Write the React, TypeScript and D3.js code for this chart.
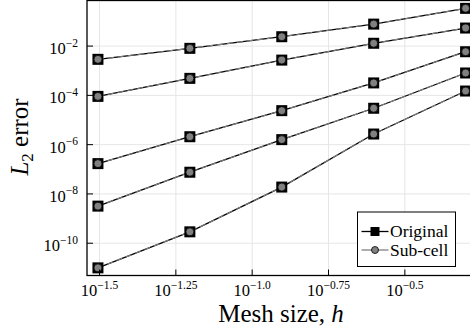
import { useEffect, useRef } from 'react'
import * as d3 from 'd3'

// mesh sizes h = 1/32 ... 1/2
const meshSizes = [1 / 32, 1 / 16, 1 / 8, 1 / 4, 1 / 2]

// L2 errors, one row per case
const originalErrors = [
  [2.9e-3, 8.1e-3, 2.4e-2, 7.8e-2, 3.4e-1],
  [9.1e-5, 4.9e-4, 2.7e-3, 1.3e-2, 5.4e-2],
  [1.7e-7, 2.1e-6, 2.4e-5, 3.2e-4, 5.9e-3],
  [3.2e-9, 7.6e-8, 1.6e-6, 3.0e-5, 8.1e-4],
  [1.0e-11, 2.9e-10, 1.9e-8, 2.7e-6, 1.5e-4],
]
const subCellErrors = [
  [2.9e-3, 8.1e-3, 2.4e-2, 7.8e-2, 3.4e-1],
  [9.1e-5, 4.9e-4, 2.7e-3, 1.3e-2, 5.4e-2],
  [1.7e-7, 2.1e-6, 2.4e-5, 3.2e-4, 5.9e-3],
  [3.2e-9, 7.6e-8, 1.6e-6, 3.0e-5, 8.1e-4],
  [1.0e-11, 2.9e-10, 1.9e-8, 2.7e-6, 1.5e-4],
]

const xTickExps = ['-1.5', '-1.25', '-1.0', '-0.75', '-0.5']
const yTickExps = ['-2', '-4', '-6', '-8', '-10']
const legendLabels = ['Original', 'Sub-cell']

const FONT = '"Liberation Serif", "DejaVu Serif", serif'

export default function App() {
  const ref = useRef<SVGSVGElement>(null)

  useEffect(() => {
    document.body.style.margin = '0'
    if (!ref.current) return
    const svg = d3.select(ref.current)
    svg.selectAll('*').remove()

    const left = 87
    const right = 476.6
    const top = 0.5
    const bottom = 275.5

    const x = d3.scaleLog()
      .domain([Math.pow(10, -1.541), Math.pow(10, -0.265)])
      .range([left, right])
    const y = d3.scaleLog()
      .domain([Math.pow(10, -11.31), Math.pow(10, -0.15)])
      .range([bottom, top])

    const g = svg.append('g')

    // grid
    xTickExps.forEach(e => {
      const px = x(Math.pow(10, +e))
      g.append('line')
        .attr('x1', px).attr('x2', px).attr('y1', top).attr('y2', bottom)
        .attr('stroke', '#e6e6e6').attr('stroke-width', 1)
    })
    yTickExps.forEach(e => {
      const py = y(Math.pow(10, +e))
      g.append('line')
        .attr('x1', left).attr('x2', right).attr('y1', py).attr('y2', py)
        .attr('stroke', '#e6e6e6').attr('stroke-width', 1)
    })

    // series
    const line = d3.line<number>()
      .x((_, i) => x(meshSizes[i]))
      .y(d => y(d))

    originalErrors.forEach(row => {
      g.append('path').datum(row)
        .attr('fill', 'none').attr('stroke', '#000').attr('stroke-width', 1.3)
        .attr('d', line)
    })
    subCellErrors.forEach(row => {
      g.append('path').datum(row)
        .attr('fill', 'none').attr('stroke', '#808080').attr('stroke-width', 1.1)
        .attr('stroke-dasharray', '6,4')
        .attr('d', line)
    })
    originalErrors.forEach(row => {
      row.forEach((v, i) => {
        g.append('rect')
          .attr('x', x(meshSizes[i]) - 5.5).attr('y', y(v) - 5.5)
          .attr('width', 11).attr('height', 11)
          .attr('fill', '#000')
      })
    })
    subCellErrors.forEach(row => {
      row.forEach((v, i) => {
        g.append('circle')
          .attr('cx', x(meshSizes[i])).attr('cy', y(v)).attr('r', 4)
          .attr('fill', '#808080').attr('stroke', '#000').attr('stroke-width', 0.8)
      })
    })

    // frame
    g.append('rect')
      .attr('x', left).attr('y', top)
      .attr('width', right - left).attr('height', bottom - top)
      .attr('fill', 'none').attr('stroke', '#000').attr('stroke-width', 1.3)

    // ticks + labels
    xTickExps.forEach(e => {
      const px = x(Math.pow(10, +e))
      g.append('line')
        .attr('x1', px).attr('x2', px).attr('y1', bottom).attr('y2', bottom - 6)
        .attr('stroke', '#000').attr('stroke-width', 1)
      const t = g.append('text')
        .attr('x', px).attr('y', 296)
        .attr('text-anchor', 'middle')
        .attr('font-family', FONT).attr('font-size', 16.5)
      t.append('tspan').text('10')
      t.append('tspan').attr('dy', -7.5).attr('font-size', 11.5).text(e.replace('-', '\u2212'))
    })
    yTickExps.forEach(e => {
      const py = y(Math.pow(10, +e))
      g.append('line')
        .attr('x1', left).attr('x2', left + 6).attr('y1', py).attr('y2', py)
        .attr('stroke', '#000').attr('stroke-width', 1)
      const t = g.append('text')
        .attr('x', 78).attr('y', py + 8)
        .attr('text-anchor', 'end')
        .attr('font-family', FONT).attr('font-size', 16.5)
      t.append('tspan').text('10')
      t.append('tspan').attr('dy', -7.5).attr('font-size', 11.5).text(e.replace('-', '\u2212'))
    })

    // axis labels
    const xl = g.append('text')
      .attr('x', 281).attr('y', 322)
      .attr('text-anchor', 'middle')
      .attr('font-family', FONT).attr('font-size', 25)
    xl.append('tspan').text('Mesh size, ')
    xl.append('tspan').attr('font-style', 'italic').text('h')

    const yl = g.append('text')
      .attr('transform', 'translate(28,137) rotate(-90)')
      .attr('text-anchor', 'middle')
      .attr('font-family', FONT).attr('font-size', 25)
    yl.append('tspan').attr('font-style', 'italic').text('L')
    yl.append('tspan').attr('dy', 5).attr('font-size', 17).text('2')
    yl.append('tspan').attr('dy', -5).text(' error')

    // legend
    const lg = g.append('g')
    lg.append('rect')
      .attr('x', 357.5).attr('y', 212)
      .attr('width', 98).attr('height', 54.5)
      .attr('fill', '#fff').attr('stroke', '#000').attr('stroke-width', 1)
    legendLabels.forEach((label, i) => {
      const ly = 231.5 + i * 18.5
      const color = i === 0 ? '#000' : '#808080'
      lg.append('line')
        .attr('x1', 361.5).attr('x2', 388.5).attr('y1', ly).attr('y2', ly)
        .attr('stroke', color).attr('stroke-width', 1.3)
      if (i === 0) {
        lg.append('rect').attr('x', 375 - 4.5).attr('y', ly - 4.5)
          .attr('width', 9).attr('height', 9).attr('fill', '#000')
      } else {
        lg.append('circle').attr('cx', 375).attr('cy', ly).attr('r', 3.5)
          .attr('fill', '#808080').attr('stroke', '#000').attr('stroke-width', 0.8)
      }
      lg.append('text')
        .attr('x', 390).attr('y', ly + 5.5)
        .attr('font-family', FONT).attr('font-size', 17.5)
        .text(label)
    })
  }, [])

  return <svg ref={ref} width={470} height={330} style={{ display: 'block', background: '#fff' }} />
}
